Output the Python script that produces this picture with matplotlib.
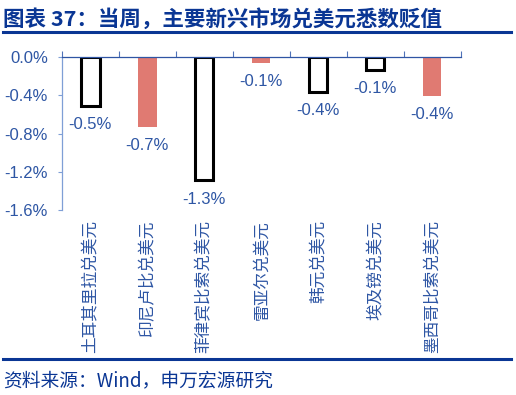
import matplotlib
matplotlib.use("Agg")
import matplotlib.pyplot as plt
from matplotlib.lines import Line2D
import numpy as np

# 数据
categories = ["土耳其里拉兑美元", "印尼卢比兑美元", "菲律宾比索兑美元", "雷亚尔兑美元",
              "韩元兑美元", "埃及镑兑美元", "墨西哥比索兑美元"]
values = [-0.51, -0.73, -1.29, -0.06, -0.37, -0.14, -0.41]
labels = ["-0.5%", "-0.7%", "-1.3%", "-0.1%", "-0.4%", "-0.1%", "-0.4%"]
filled = [False, True, False, True, False, False, True]
yticks = [0.0, -0.4, -0.8, -1.2, -1.6]
ytick_labels = ["0.0%", "-0.4%", "-0.8%", "-1.2%", "-1.6%"]

DARK_BLUE = "#0a3694"
TEXT_BLUE = "#2e56a4"
RED = "#e07a72"

plt.rcParams["font.family"] = ["Liberation Sans", "Noto Sans CJK SC", "DejaVu Sans"]

fig = plt.figure(figsize=(5.16, 3.95), dpi=100)
ax = fig.add_axes([0.120, 0.468, 0.773, 0.388])

x = np.arange(len(categories))
for xi, v, f in zip(x, values, filled):
    if f:
        ax.bar(xi, v, width=0.32, color=RED, edgecolor="none", zorder=2)
    else:
        ax.bar(xi, v, width=0.32, facecolor="white", edgecolor="black",
               linewidth=2.2, zorder=2)

for xi, v, lab in zip(x, values, labels):
    ax.annotate(lab, (xi, v), xytext=(0, -8), textcoords="offset points",
                ha="center", va="top", fontsize=12, color=TEXT_BLUE)

ax.set_xlim(-0.5, len(categories) - 0.5)
ax.set_ylim(-1.6, 0.0)

ax.set_yticks(yticks)
ax.set_yticklabels(ytick_labels)
ax.tick_params(axis="y", length=3, width=0.8, color="#7f9fd6", pad=7,
               labelsize=12, labelcolor=TEXT_BLUE)

# 类别标签放在底部，竖排
ax.set_xticks(x)
ax.set_xticklabels(categories, rotation=90, va="top",
                   family=["Noto Sans CJK SC"], fontsize=12)
ax.tick_params(axis="x", bottom=True, length=0, pad=7, labelcolor=TEXT_BLUE)

# 顶部轴线（0 值）上的分隔刻度
ax.set_xticks(np.arange(-0.5, len(categories), 1.0), minor=True)
ax.tick_params(axis="x", which="minor", top=True, bottom=False, direction="out",
               length=4, width=0.8, color="#4f72b8")

for s in ["right", "bottom"]:
    ax.spines[s].set_visible(False)
ax.spines["top"].set_color("#2f55a4")
ax.spines["top"].set_linewidth(0.9)
ax.spines["left"].set_color("#7f9fd6")
ax.spines["left"].set_linewidth(0.9)

# 标题、分隔线、来源
fig.text(0.006, 0.952, "图表 37：当周，主要新兴市场兑美元悉数贬值",
         fontsize=15.5, fontweight="heavy", color=DARK_BLUE, va="center",
         family=["Noto Sans CJK SC"])
fig.add_artist(Line2D([0.006, 0.99], [0.918, 0.918], color=DARK_BLUE,
                      linewidth=2.2, transform=fig.transFigure))
fig.add_artist(Line2D([0.006, 0.99], [0.091, 0.091], color=DARK_BLUE,
                      linewidth=2.2, transform=fig.transFigure))
fig.text(0.006, 0.035, "资料来源：Wind，申万宏源研究", fontsize=13.5,
         color=DARK_BLUE, va="center", family=["Noto Sans CJK SC"])

fig.savefig("out.png", dpi=100)
